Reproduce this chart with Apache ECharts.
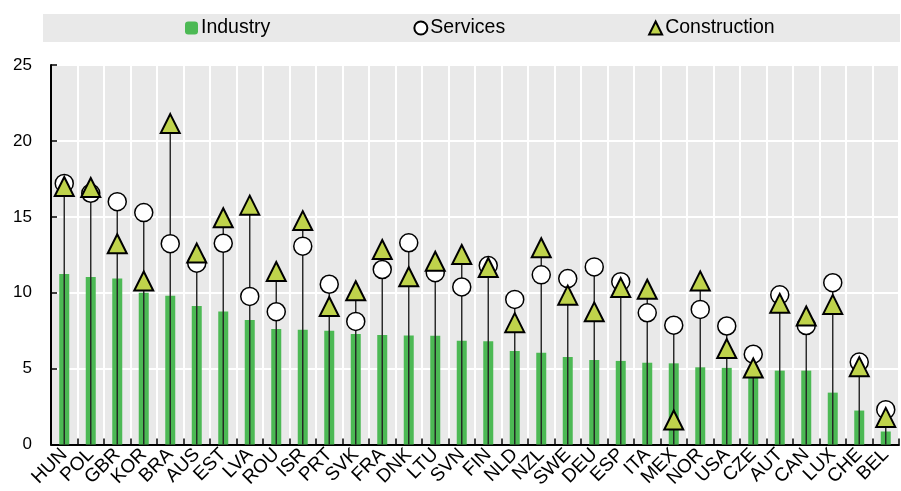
<!DOCTYPE html>
<html>
<head>
<meta charset="utf-8">
<script src="https://cdn.jsdelivr.net/npm/echarts@6/dist/echarts.min.js"></script>
<style>
  html, body { margin: 0; padding: 0; background: #fff; }
  #chart { width: 901px; height: 491px; }
</style>
</head>
<body>
<div id="chart"></div>
<script>
// countries, sorted by industry
var countries = ["HUN","POL","GBR","KOR","BRA","AUS","EST","LVA","ROU","ISR","PRT","SVK","FRA","DNK","LTU","SVN",
                 "FIN","NLD","NZL","SWE","DEU","ESP","ITA","MEX","NOR","USA","CZE","AUT","CAN","LUX","CHE","BEL"];
var industry = [11.23,11.03,10.94,10.0,9.80,9.12,8.77,8.20,7.61,7.57,7.50,7.28,7.22,7.19,7.17,6.84,
                6.80,6.16,6.05,5.77,5.57,5.51,5.39,5.35,5.09,5.05,4.80,4.87,4.87,3.42,2.24,0.86];
var services = [17.2,16.55,16.0,15.28,13.23,11.95,13.26,9.76,8.75,13.07,10.56,8.11,11.53,13.29,11.32,10.38,
                11.79,9.56,11.18,10.93,11.70,10.73,8.68,7.86,8.90,7.81,5.95,9.86,7.84,10.66,5.43,2.30];
var construction = [17.0,16.93,13.23,10.77,21.14,12.61,14.94,15.77,11.40,14.75,9.09,10.13,12.85,11.05,12.07,12.52,
                    11.66,8.03,12.96,9.84,8.74,10.34,10.23,1.62,10.78,6.32,5.04,9.30,8.47,9.23,5.13,1.79];
var yTicks = [0, 5, 10, 15, 20, 25];

var FONT = "'Liberation Sans', Arial, sans-serif";

var chart = echarts.init(document.getElementById("chart"));

// stem from 0 up to the highest marker
var stems = countries.map(function (c, i) {
    return [i, Math.max(services[i], construction[i])];
});

var option = {
    animation: false,
    backgroundColor: "#fff",
    graphic: [{
        type: "rect",
        shape: { x: 43, y: 14, width: 857, height: 28 },
        style: { fill: "#e9e9e9" },
        silent: true,
        z: -1
    }],
    legend: {
        data: ["Industry", "Services", "Construction"],
        left: 185,
        top: 17,
        padding: 0,
        itemGap: 143,
        itemWidth: 13,
        itemHeight: 13,
        textStyle: { fontFamily: FONT, fontSize: 19.5, color: "#000", lineHeight: 22, padding: [0, 0, 0, -2] }
    },
    grid: { left: 51, right: 2, top: 65, bottom: 46, containLabel: false,
            show: true, backgroundColor: "#e9e9e9", borderWidth: 0 },
    xAxis: {
        type: "category",
        data: countries,
        boundaryGap: true,
        axisLine: { lineStyle: { color: "#000", width: 2 } },
        axisTick: { show: true, inside: true, length: 6, alignWithLabel: false, lineStyle: { color: "#000", width: 1.5 } },
        axisLabel: { rotate: 45, interval: 0, margin: 7, color: "#000", fontFamily: FONT, fontSize: 19 },
        splitLine: { show: true, interval: 0, lineStyle: { color: "#fff", width: 2 } }
    },
    yAxis: {
        type: "value",
        min: 0,
        max: 25,
        interval: 5,
        axisLine: { show: true, lineStyle: { color: "#000", width: 2 } },
        axisTick: { show: true, inside: true, length: 6, lineStyle: { color: "#000", width: 1.5 } },
        axisLabel: { color: "#000", fontFamily: FONT, fontSize: 17, margin: 19,
            formatter: function (v) { return yTicks.indexOf(v) >= 0 ? String(v) : ""; } },
        splitLine: { show: true, lineStyle: { color: "#fff", width: 2 } }
    },
    series: [
        {
            name: "Industry",
            type: "bar",
            data: industry,
            barWidth: 10,
            itemStyle: { color: "#4cb954" },
            z: 2
        },
        {
            name: "stem",
            type: "custom",
            data: stems,
            z: 3,
            silent: true,
            renderItem: function (params, api) {
                var p0 = api.coord([api.value(0), 0]);
                var p1 = api.coord([api.value(0), api.value(1)]);
                return {
                    type: "line",
                    shape: { x1: p0[0], y1: p0[1], x2: p1[0], y2: p1[1] },
                    style: { stroke: "#222", lineWidth: 1.4 }
                };
            }
        },
        {
            name: "Services",
            type: "scatter",
            data: services,
            symbol: "circle",
            symbolSize: 18,
            itemStyle: { color: "#fff", borderColor: "#000", borderWidth: 1.5, opacity: 1 },
            z: 4
        },
        {
            name: "Construction",
            type: "scatter",
            data: construction,
            symbol: "triangle",
            symbolSize: [19, 19],
            itemStyle: { color: "#bfd34b", borderColor: "#000", borderWidth: 2, opacity: 1 },
            z: 5
        }
    ]
};

chart.setOption(option);
</script>
</body>
</html>
